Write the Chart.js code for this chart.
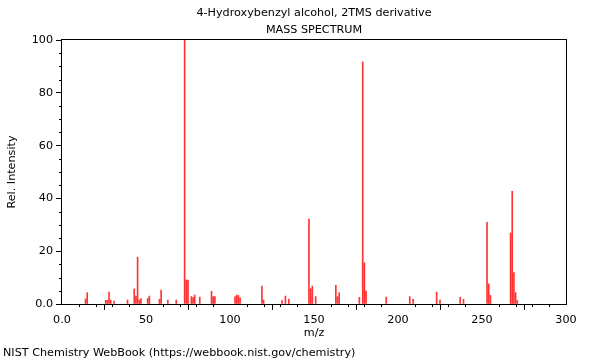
<!DOCTYPE html>
<html><head><meta charset="utf-8">
<style>html,body{margin:0;padding:0;background:#fff}#wrap{width:600px;height:360px}</style>
<script src="https://cdn.jsdelivr.net/npm/chart.js@4.4.1/dist/chart.umd.min.js"></script>
</head><body><div id="wrap"><canvas id="c" width="600" height="360"></canvas></div>
<script>
const mzValues    = [14, 15, 26, 27, 28, 29, 31, 39, 43, 44, 45, 46, 47, 51, 52, 58, 59, 63, 68, 73, 74, 75, 77, 78, 79, 82, 89, 90, 91, 103, 104, 105, 106, 119, 120, 131, 133, 135, 147, 148, 149, 151, 163, 164, 165, 177, 179, 180, 181, 193, 207, 209, 223, 225, 237, 239, 253, 254, 255, 267, 268, 269, 270, 271];
const intensities = [1.9, 4.3, 1.4, 1.4, 4.5, 1.5, 1.1, 1.5, 5.7, 3.0, 17.7, 1.5, 2.1, 2.1, 3.0, 1.8, 5.3, 1.5, 1.5, 100, 9.1, 9.1, 2.8, 2.4, 3.4, 2.6, 4.8, 2.8, 2.8, 2.8, 3.4, 3.2, 2.3, 6.8, 1.5, 1.3, 3.0, 1.8, 32.2, 5.8, 6.8, 2.8, 7.1, 2.8, 4.3, 2.5, 91.7, 15.6, 4.9, 2.6, 2.8, 1.8, 4.5, 1.5, 2.5, 1.8, 30.9, 7.6, 3.3, 26.9, 42.7, 11.9, 4.3, 1.3];
const xTickValues = [0, 50, 100, 150, 200, 250, 300];
const yTickValues = [0, 20, 40, 60, 80, 100];
const titleLines  = ['4-Hydroxybenzyl alcohol, 2TMS derivative', 'MASS SPECTRUM'];
const xLabel = 'm/z';
const yLabel = 'Rel. Intensity';
const footerText = 'NIST Chemistry WebBook (https://webbook.nist.gov/chemistry)';

const FONT = {family: '"DejaVu Sans", sans-serif', size: 11.2};
const fmt = v => v === 0 ? '0.0' : String(v);

const decor = {
  id: 'decor',
  afterDraw(chart) {
    const {ctx, chartArea: a, scales} = chart;
    ctx.save();
    ctx.strokeStyle = '#000';
    ctx.lineWidth = 1;
    ctx.strokeRect(Math.round(a.left) - 0.5, Math.round(a.top) - 0.5, Math.round(a.right - a.left) + 1, Math.round(a.bottom - a.top) + 1);
    ctx.beginPath();
    for (let v = 0; v <= 300; v += 10) {
      if (v % 50 === 0) continue;
      const x = Math.round(scales.x.getPixelForValue(v)) + 0.5;
      ctx.moveTo(x, a.bottom); ctx.lineTo(x, a.bottom + 3);
    }
    for (let v = 0; v <= 100; v += 5) {
      if (v % 20 === 0) continue;
      const y = Math.round(scales.y.getPixelForValue(v)) + 0.5;
      ctx.moveTo(a.left, y); ctx.lineTo(a.left - 3, y);
    }
    ctx.stroke();
    ctx.fillStyle = '#000';
    ctx.font = '11.2px "DejaVu Sans", sans-serif';
    ctx.textBaseline = 'middle';
    ctx.textAlign = 'center';
    const cx = (a.left + a.right) / 2;
    ctx.fillText(titleLines[0], cx, 13);
    ctx.fillText(titleLines[1], cx, 30);
    ctx.textAlign = 'left';
    ctx.fillText(footerText, 3, 353);
    ctx.restore();
  }
};

new Chart(document.getElementById('c'), {
  type: 'bar',
  data: {
    datasets: [{
      data: mzValues.map((m, i) => ({x: m, y: intensities[i]})),
      backgroundColor: 'rgba(255,0,0,0.8)',
      borderWidth: 0,
      barThickness: 1
    }]
  },
  options: {
    responsive: false,
    animation: false,
    layout: {padding: {left: 0, right: 34, top: 40, bottom: 20}},
    plugins: {legend: {display: false}, tooltip: {enabled: false}, title: {display: false}},
    scales: {
      x: {
        type: 'linear', min: 0, max: 300, offset: false,
        afterBuildTicks: s => { s.ticks = xTickValues.map(v => ({value: v})); },
        grid: {drawOnChartArea: false, drawTicks: true, tickLength: 6, color: '#000'},
        border: {display: false},
        ticks: {callback: fmt, font: FONT, color: '#000', padding: 3, maxRotation: 0, autoSkip: false},
        title: {display: true, text: xLabel, font: FONT, color: '#000', padding: {top: 0, bottom: 0}},
        afterFit: s => { s.height = 36; }
      },
      y: {
        min: 0, max: 100,
        afterBuildTicks: s => { s.ticks = yTickValues.map(v => ({value: v})); },
        grid: {drawOnChartArea: false, drawTicks: true, tickLength: 6, color: '#000'},
        border: {display: false},
        ticks: {callback: fmt, font: FONT, color: '#000', padding: 3, autoSkip: false},
        title: {display: true, text: yLabel, font: FONT, color: '#000', padding: {top: 5, bottom: 0}},
        afterFit: s => { s.width = 62; }
      }
    }
  },
  plugins: [decor]
});
</script>
</body></html>
